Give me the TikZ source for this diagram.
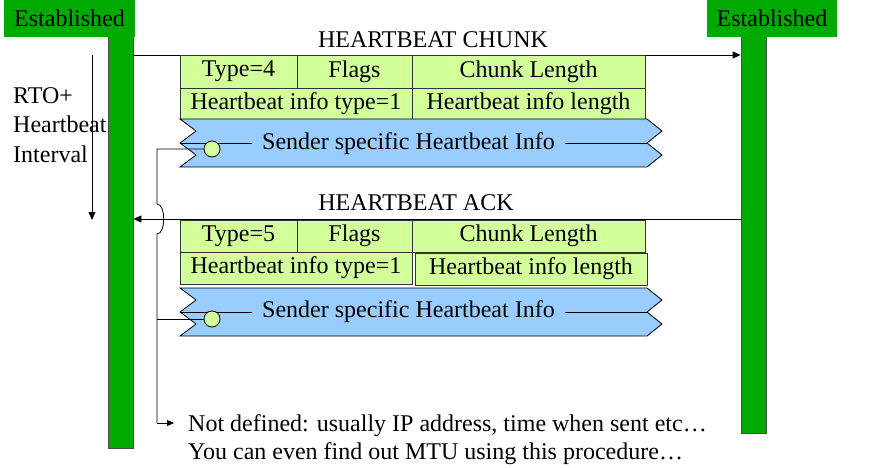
\documentclass[tikz,border=0pt]{standalone}
\usepackage{fontspec}
\setmainfont{Liberation Serif}
\usetikzlibrary{arrows.meta,positioning}
\definecolor{estgreen}{RGB}{0,170,0}
\definecolor{cellgreen}{RGB}{210,255,153}
\definecolor{infoblue}{RGB}{153,204,255}
\tikzset{
  txt/.style={font=\fontsize{24}{29.5}\selectfont, inner sep=0pt},
  estbox/.style={txt, fill=estgreen, minimum width=131pt, minimum height=37pt},
  lifeline/.style={fill=estgreen, draw=black!70, line width=0.8pt, minimum width=25pt, inner sep=0pt},
  cell/.style={txt, draw=black!80, fill=cellgreen, line width=0.8pt},
  infotxt/.style={txt, inner xsep=10pt},
  banner/.style={draw=black, fill=infoblue, line width=0.8pt},
  msg/.style={-{Triangle[length=8pt,width=7pt]}, line width=0.8pt},
  dot/.style={circle, draw, fill=cellgreen, minimum size=16pt, inner sep=0pt, line width=0.8pt},
}
\begin{document}
\begin{tikzpicture}[x=1pt,y=-1pt]
\useasboundingbox (0,0) rectangle (892,468);
\node[lifeline, minimum height=412pt] (BL) at (120.5,242) {};
\node[lifeline, minimum height=397pt] (BR) at (753.5,234.5) {};
\node[estbox] (EL) at (69.5,18.5) {Established};
\node[estbox, minimum width=130pt] (ER) at (772,18.5) {Established};

\coordinate (m1) at (0,55);
\coordinate (m2) at (0,219);
\node[txt] (lchunk) at (433,40) {HEARTBEAT CHUNK};
\node[txt] (lack) at (416,203) {HEARTBEAT ACK};
\draw[msg] (BL.east |- m1) -- (BR.west |- m1);
\draw[msg] (BR.west |- m2) -- (BL.east |- m2);

\node[txt, align=left, anchor=west] (rto) at (13,125) {RTO+\\Heartbeat\\Interval};
\coordinate (r1) at (92,55);
\coordinate (r2) at (92,220);
\draw[msg] (r1) -- (r2);

\node[cell, minimum width=117pt, minimum height=33pt] (t1type) at (238.5,71.5) {Type=4};
\node[cell, minimum width=115pt, minimum height=33pt] (t1flags) at (354.5,71.5) {Flags};
\node[cell, minimum width=233pt, minimum height=33pt] (t1len) at (528.5,71.5) {Chunk Length};
\node[cell, minimum width=232pt, minimum height=31pt] (t1hbt) at (296,103.5) {Heartbeat info type=1};
\node[cell, minimum width=233pt, minimum height=31pt] (t1hbl) at (528.5,103.5) {Heartbeat info length};

\draw[banner] (180,119) -- (647,119) -- (662,131) -- (647,143) -- (662,155) -- (647,167)
  -- (180,167) -- (196,155) -- (180,143) -- (196,131) -- cycle;
\node[infotxt] (s1) at (408.5,144) {Sender specific Heartbeat Info};
\coordinate (s1l) at (180,143);
\coordinate (s1r) at (647,143);
\draw (s1l) -- (s1l -| s1.west);
\draw (s1r -| s1.east) -- (s1r);
\node[dot] (d1) at (212,149) {};

\node[cell, minimum width=117pt, minimum height=32pt] (t2type) at (238.5,236) {Type=5};
\node[cell, minimum width=115pt, minimum height=32pt] (t2flags) at (354.5,236) {Flags};
\node[cell, minimum width=233pt, minimum height=32pt] (t2len) at (528.5,236) {Chunk Length};
\node[cell, minimum width=232pt, minimum height=32pt] (t2hbt) at (296,268) {Heartbeat info type=1};
\node[cell, minimum width=232pt, minimum height=32pt] (t2hbl) at (531,269) {Heartbeat info length};

\draw[banner] (180,288) -- (647,288) -- (662,300) -- (647,312) -- (662,324) -- (647,336)
  -- (180,336) -- (196,324) -- (180,312) -- (196,300) -- cycle;
\node[infotxt] (s2) at (408.5,312) {Sender specific Heartbeat Info};
\coordinate (s2l) at (180,312);
\coordinate (s2r) at (647,312);
\draw (s2l) -- (s2l -| s2.west);
\draw (s2r -| s2.east) -- (s2r);
\node[dot] (d2) at (212,319) {};

\node[txt, anchor=west] (note1) at (188,426) {Not defined: usually IP address, time when sent etc…};
\node[txt, anchor=west] (note2) at (188,454) {You can even find out MTU using this procedure…};

\coordinate (k1) at (157,149);
\coordinate (jt) at (157,204);
\coordinate (jb) at (157,234);
\coordinate (k2) at (157,423);
\draw[line width=0.8pt] (d1.west) -- (k1) -- (jt) .. controls (166,204) and (166,234) .. (jb) -- (k2);
\draw[line width=0.8pt] (d2.west) -- (d2.west -| k1);
\draw[-{Triangle[length=7pt,width=6pt]}, line width=0.8pt] (k2) -- ([xshift=-14pt]note1.west |- k2);
\end{tikzpicture}
\end{document}
